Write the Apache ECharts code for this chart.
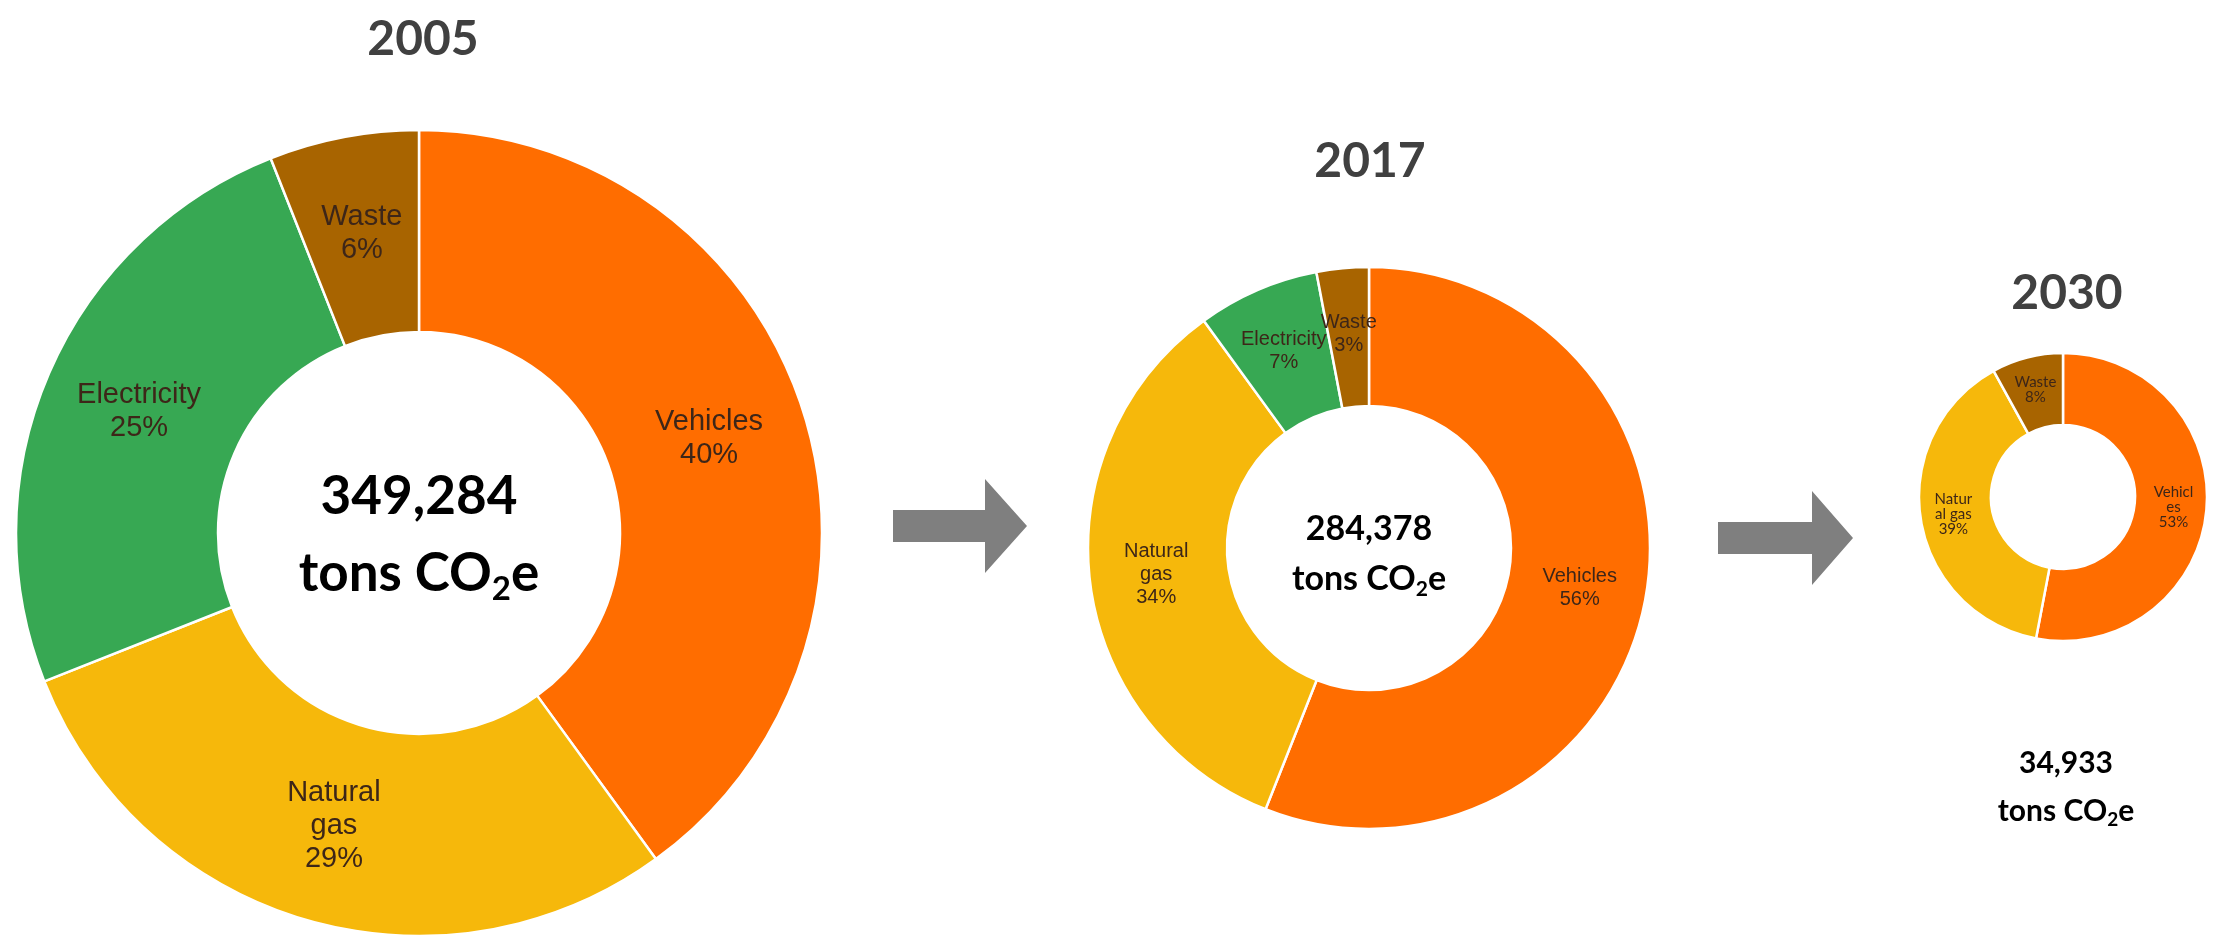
<!DOCTYPE html>
<html>
<head>
<meta charset="utf-8">
<script src="https://cdn.jsdelivr.net/npm/echarts@6/dist/echarts.min.js"></script>
<style>
  html, body { margin: 0; padding: 0; background: #ffffff; }
  #chart { width: 2228px; height: 939px; }
</style>
</head>
<body>
<div id="chart"></div>
<script>
// ---------------- data ----------------
const categories = ['Vehicles', 'Natural gas', 'Electricity', 'Waste'];
const years = ['2005', '2017', '2030'];
const totals = ['349,284', '284,378', '34,933'];
const unitMain = 'tons CO';
const unitSub = '2';
const unitEnd = 'e';
const values2005 = [40, 29, 25, 6];
const values2017 = [56, 34, 7, 3];
const values2030 = [53, 39, 0, 8];
const labelText2005 = ['Vehicles', 'Natural\ngas', 'Electricity', 'Waste'];
const labelText2017 = ['Vehicles', 'Natural\ngas', 'Electricity', 'Waste'];
const labelText2030 = ['Vehicl\nes', 'Natur\nal gas', 'Electricity', 'Waste'];

// ---------------- styles / layout ----------------
const colors = ['#FF6D00', '#F6B80B', '#37A853', '#A86400'];
const labelColor = '#3d2618';
const titleColor = '#404040';
const boldFont = 'Lato';

const layouts = [
  { center: [419, 533], radius: [201, 403], fs: 29, lh: 33, ff: 'Liberation Sans', fw: 'normal',
    title: [423, 40], t1: [419, 497], t2: [419, 574], tfs: 53 },
  { center: [1369, 548], radius: [142, 281], fs: 20, lh: 23, ff: 'Liberation Sans', fw: 'normal',
    title: [1370, 162], t1: [1369, 529], t2: [1369, 579], tfs: 34 },
  { center: [2063, 497], radius: [72, 144], fs: 15, lh: 15, ff: 'Lato', fw: 'normal',
    title: [2067, 294], t1: [2066, 763], t2: [2066, 811], tfs: 30 }
];

const valueSets = [values2005, values2017, values2030];
const labelSets = [labelText2005, labelText2017, labelText2030];

const series = valueSets.map(function (vals, k) {
  const L = layouts[k];
  const data = [];
  vals.forEach(function (v, i) {
    if (v > 0) {
      data.push({
        name: categories[i],
        value: v,
        labelText: labelSets[k][i],
        itemStyle: { color: colors[i] }
      });
    }
  });
  return {
    type: 'pie',
    name: years[k],
    center: L.center,
    radius: L.radius,
    startAngle: 90,
    clockwise: true,
    animation: false,
    silent: true,
    avoidLabelOverlap: false,
    minShowLabelAngle: 0,
    labelLayout: { hideOverlap: false },
    itemStyle: { borderColor: '#ffffff', borderWidth: 2.5 },
    label: {
      show: true,
      position: 'inside',
      color: labelColor,
      fontFamily: L.ff,
      fontWeight: L.fw,
      fontSize: L.fs,
      lineHeight: L.lh,
      align: 'center',
      overflow: 'none',
      formatter: function (p) { return p.data.labelText + '\n' + p.percent + '%'; }
    },
    labelLine: { show: false },
    data: data
  };
});

const graphics = [];
years.forEach(function (y, k) {
  const L = layouts[k];
  graphics.push({
    type: 'text', silent: true,
    style: {
      text: y, x: L.title[0], y: L.title[1],
      textAlign: 'center', textVerticalAlign: 'middle',
      fill: titleColor, fontFamily: boldFont, fontWeight: 'bold', fontSize: 48
    }
  });
  graphics.push({
    type: 'text', silent: true,
    style: {
      text: totals[k], x: L.t1[0], y: L.t1[1],
      textAlign: 'center', textVerticalAlign: 'middle',
      fill: '#000000', fontFamily: boldFont, fontWeight: 'bold', fontSize: L.tfs
    }
  });
  const subFs = Math.round(L.tfs * 0.62);
  graphics.push({
    type: 'text', silent: true,
    style: {
      text: '{t|' + unitMain + '}{s|' + unitSub + '}{t|' + unitEnd + '}',
      x: L.t2[0], y: L.t2[1],
      textAlign: 'center', textVerticalAlign: 'middle',
      fill: '#000000',
      rich: {
        t: { fill: '#000000', fontFamily: boldFont, fontWeight: 'bold', fontSize: L.tfs, lineHeight: Math.round(L.tfs * 1.2) },
        s: { fill: '#000000', fontFamily: boldFont, fontWeight: 'bold', fontSize: subFs, lineHeight: Math.round(subFs * 1.1), verticalAlign: 'bottom' }
      }
    }
  });
});

// arrows (decorative)
const arrowColor = '#7F7F7F';
function arrow(x0, xh, xt, yc, hs, hh) {
  return {
    type: 'polygon', silent: true,
    shape: { points: [[x0, yc - hs], [xh, yc - hs], [xh, yc - hh], [xt, yc], [xh, yc + hh], [xh, yc + hs], [x0, yc + hs]] },
    style: { fill: arrowColor }
  };
}
graphics.push(arrow(893, 985, 1027, 526, 16, 47));
graphics.push(arrow(1718, 1812, 1853, 538, 16, 47));

const chart = echarts.init(document.getElementById('chart'), null, { renderer: 'canvas' });
chart.setOption({
  backgroundColor: '#ffffff',
  animation: false,
  series: series,
  graphic: graphics
});
</script>
</body>
</html>
